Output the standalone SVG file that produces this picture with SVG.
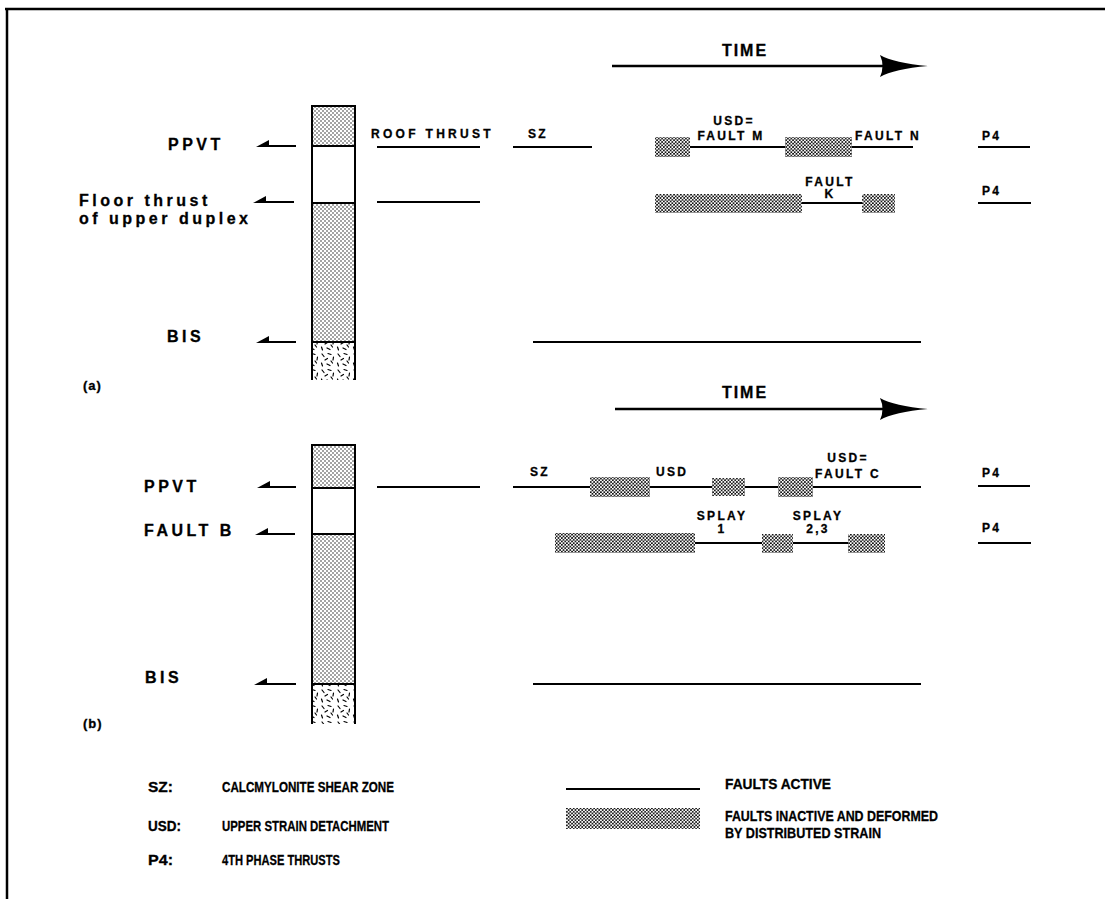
<svg xmlns="http://www.w3.org/2000/svg" width="1105" height="899" viewBox="0 0 1105 899">
<style>
text{font-family:"Liberation Sans",Arial,sans-serif;font-weight:bold;fill:#000;stroke:#000;stroke-width:0.3}
.lbl{font-size:16px;letter-spacing:3.5px}
.sm{font-size:12px;letter-spacing:2.3px}
.time{font-size:16px;letter-spacing:2px}
.leg{font-size:15px}
.act{stroke:#000;stroke-width:2;fill:none}
.frame{stroke:#000;stroke-width:2.5;fill:none}
.col{stroke:#000;stroke-width:2;fill:none}
.inact{fill:url(#dense)}
</style>
<defs>
<pattern id="stip" width="4" height="4" patternUnits="userSpaceOnUse">
<rect width="4" height="4" fill="#fff"/>
<circle cx="1" cy="1" r="0.7" fill="#000"/>
<circle cx="3" cy="3" r="0.7" fill="#000"/>
</pattern>
<pattern id="dense" width="3.4" height="3.4" patternUnits="userSpaceOnUse">
<rect width="3.4" height="3.4" fill="#fff"/>
<circle cx="0.85" cy="0.85" r="0.95" fill="#000"/>
<circle cx="2.55" cy="2.55" r="0.95" fill="#000"/>
</pattern>
<pattern id="granite" width="16" height="16" patternUnits="userSpaceOnUse">
<rect width="16" height="16" fill="#fff"/>
<g stroke="#000" stroke-width="1.2" stroke-linecap="round">
<line x1="2" y1="2" x2="4" y2="4.5"/>
<line x1="8" y1="1.5" x2="11" y2="2.5"/>
<line x1="13.5" y1="5" x2="13" y2="8"/>
<line x1="5" y1="8" x2="7.5" y2="6.5"/>
<line x1="1.5" y1="11" x2="2.5" y2="14"/>
<line x1="7" y1="12" x2="10" y2="13.5"/>
<line x1="11" y1="9" x2="12.5" y2="11"/>
</g>
</pattern>
<path id="hp" d="M0,1 L13,-6 L13,1 Z" fill="#000"/>
<path id="ah" d="M0,-11 Q14,-3 48,0 Q14,3 0,11 Q5,0 0,-11 Z" fill="#000"/>
</defs>

<g id="frame">
<path class="frame" d="M5,9 H1105 M7,9 V899"/>
</g>

<!-- Panel (a) -->
<g id="time-a">
<text class="time" x="745" y="56" text-anchor="middle">TIME</text>
<line x1="612" y1="66" x2="884" y2="66" stroke="#000" stroke-width="2.5"/>
<use href="#ah" x="880" y="66"/>
</g>

<g id="column-a">
<rect x="312" y="106" width="43" height="40" fill="url(#stip)"/>
<rect x="312" y="146" width="43" height="57" fill="#fff"/>
<rect x="312" y="203" width="43" height="139" fill="url(#stip)"/>
<rect x="312" y="342" width="43" height="38" fill="url(#granite)"/>
<path class="col" d="M312,380 V106 H355 V380 M312,146 H355 M312,203 H355 M312,342 H355"/>
</g>

<g id="label-ppvt-a">
<text class="lbl" x="168" y="150">PPVT</text>
<line x1="266" y1="146" x2="296" y2="146" class="act"/>
<use href="#hp" x="256" y="146"/>
</g>
<g id="label-floor-a">
<text class="lbl" x="79" y="206">Floor thrust</text>
<text class="lbl" x="79" y="224">of upper duplex</text>
<line x1="263" y1="202" x2="294" y2="202" class="act"/>
<use href="#hp" x="253" y="202"/>
</g>
<g id="label-bis-a">
<text class="lbl" x="167" y="342">BIS</text>
<line x1="266" y1="342" x2="296" y2="342" class="act"/>
<use href="#hp" x="256" y="342"/>
</g>
<text id="label-a" class="sm" x="83" y="390" style="letter-spacing:1px;font-size:13px">(a)</text>

<g id="connectors">
<line class="act" x1="377" y1="147" x2="480" y2="147"/>
<line class="act" x1="513" y1="147" x2="592" y2="147"/>
<line class="act" x1="690" y1="147" x2="785" y2="147"/>
<line class="act" x1="852" y1="147" x2="913" y2="147"/>
<line class="act" x1="978" y1="147" x2="1030" y2="147"/>
<line class="act" x1="377" y1="202" x2="480" y2="202"/>
<line class="act" x1="802" y1="203" x2="862" y2="203"/>
<line class="act" x1="978" y1="203" x2="1031" y2="203"/>
<line class="act" x1="533" y1="342" x2="921" y2="342"/>
<line class="act" x1="377" y1="487" x2="480" y2="487"/>
<line class="act" x1="513" y1="487" x2="590" y2="487"/>
<line class="act" x1="650" y1="487" x2="712" y2="487"/>
<line class="act" x1="745" y1="487" x2="778" y2="487"/>
<line class="act" x1="813" y1="487" x2="921" y2="487"/>
<line class="act" x1="978" y1="486" x2="1030" y2="486"/>
<line class="act" x1="695" y1="543" x2="762" y2="543"/>
<line class="act" x1="793" y1="543" x2="848" y2="543"/>
<line class="act" x1="978" y1="543" x2="1031" y2="543"/>
<line class="act" x1="533" y1="684" x2="921" y2="684"/>
</g>

<g id="inactive-a">
<rect class="inact" x="655" y="137" width="35" height="20"/>
<rect class="inact" x="785" y="137" width="67" height="20"/>
<rect class="inact" x="655" y="194" width="147" height="19"/>
<rect class="inact" x="862" y="194" width="33" height="19"/>
</g>

<g id="labels-a">
<text class="sm" x="371" y="138" style="letter-spacing:3.3px">ROOF THRUST</text>
<text class="sm" x="528" y="138">SZ</text>
<text class="sm" x="734" y="125" text-anchor="middle">USD=</text>
<text class="sm" x="731" y="140" text-anchor="middle">FAULT M</text>
<text class="sm" x="855" y="140">FAULT N</text>
<text class="sm" x="982" y="140">P4</text>
<text class="sm" x="830" y="186" text-anchor="middle">FAULT</text>
<text class="sm" x="830" y="198" text-anchor="middle">K</text>
<text class="sm" x="982" y="195">P4</text>
</g>

<!-- Panel (b) -->
<g id="time-b">
<text class="time" x="745" y="398" text-anchor="middle">TIME</text>
<line x1="615" y1="409" x2="884" y2="409" stroke="#000" stroke-width="2.5"/>
<use href="#ah" x="880" y="409"/>
</g>

<g id="column-b">
<rect x="312" y="445" width="43" height="43" fill="url(#stip)"/>
<rect x="312" y="488" width="43" height="46" fill="#fff"/>
<rect x="312" y="534" width="43" height="150" fill="url(#stip)"/>
<rect x="312" y="684" width="43" height="40" fill="url(#granite)"/>
<path class="col" d="M312,724 V445 H355 V724 M312,488 H355 M312,534 H355 M312,684 H355"/>
</g>

<g id="label-ppvt-b">
<text class="lbl" x="144" y="492">PPVT</text>
<line x1="267" y1="487" x2="296" y2="487" class="act"/>
<use href="#hp" x="257" y="487"/>
</g>
<g id="label-faultb-b">
<text class="lbl" x="144" y="536">FAULT B</text>
<line x1="265" y1="534" x2="295" y2="534" class="act"/>
<use href="#hp" x="255" y="534"/>
</g>
<g id="label-bis-b">
<text class="lbl" x="145" y="683">BIS</text>
<line x1="264" y1="684" x2="296" y2="684" class="act"/>
<use href="#hp" x="254" y="684"/>
</g>
<text id="label-b" class="sm" x="83" y="728" style="letter-spacing:1px;font-size:13px">(b)</text>

<g id="inactive-b">
<rect class="inact" x="590" y="477" width="60" height="20"/>
<rect class="inact" x="712" y="478" width="33" height="18"/>
<rect class="inact" x="778" y="477" width="35" height="20"/>
<rect class="inact" x="555" y="533" width="140" height="20"/>
<rect class="inact" x="762" y="534" width="31" height="19"/>
<rect class="inact" x="848" y="534" width="37" height="19"/>
</g>

<g id="labels-b">
<text class="sm" x="530" y="476">SZ</text>
<text class="sm" x="656" y="476">USD</text>
<text class="sm" x="848" y="462" text-anchor="middle">USD=</text>
<text class="sm" x="848" y="478" text-anchor="middle">FAULT C</text>
<text class="sm" x="982" y="477">P4</text>
<text class="sm" x="722" y="520" text-anchor="middle">SPLAY</text>
<text class="sm" x="722" y="533" text-anchor="middle">1</text>
<text class="sm" x="818" y="520" text-anchor="middle">SPLAY</text>
<text class="sm" x="818" y="533" text-anchor="middle">2,3</text>
<text class="sm" x="982" y="532">P4</text>
</g>

<!-- Legend -->
<g id="legend">
<text class="leg" x="148" y="792" textLength="25" lengthAdjust="spacingAndGlyphs">SZ:</text>
<text class="leg" x="222" y="792" textLength="172" lengthAdjust="spacingAndGlyphs">CALCMYLONITE SHEAR ZONE</text>
<text class="leg" x="148" y="831" textLength="33" lengthAdjust="spacingAndGlyphs">USD:</text>
<text class="leg" x="222" y="831" textLength="167" lengthAdjust="spacingAndGlyphs">UPPER STRAIN DETACHMENT</text>
<text class="leg" x="148" y="865" textLength="25" lengthAdjust="spacingAndGlyphs">P4:</text>
<text class="leg" x="222" y="865" textLength="118" lengthAdjust="spacingAndGlyphs">4TH PHASE THRUSTS</text>
<line class="act" x1="566" y1="789" x2="700" y2="789"/>
<text class="leg" x="725" y="789" textLength="106" lengthAdjust="spacingAndGlyphs">FAULTS ACTIVE</text>
<rect class="inact" x="566" y="808" width="134" height="21"/>
<text class="leg" x="725" y="821" textLength="213" lengthAdjust="spacingAndGlyphs">FAULTS INACTIVE AND DEFORMED</text>
<text class="leg" x="725" y="838" textLength="156" lengthAdjust="spacingAndGlyphs">BY DISTRIBUTED STRAIN</text>
</g>
</svg>
